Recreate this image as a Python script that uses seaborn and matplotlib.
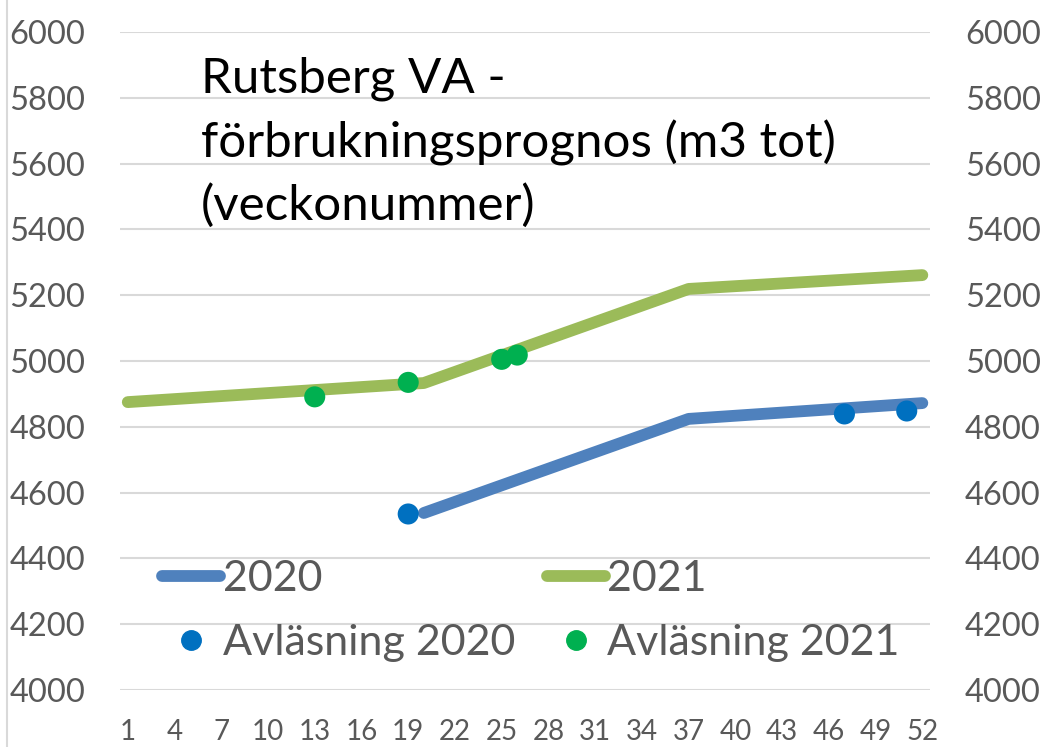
import seaborn as sns
import matplotlib.pyplot as plt
from matplotlib.lines import Line2D

# prognos (linjer), veckonummer -> m3 tot
weeks_2020 = [20, 37, 52]
values_2020 = [4538, 4824, 4872]
weeks_2021 = [1, 20, 37, 52]
values_2021 = [4875, 4933, 5219, 5261]

# avläsningar (punkter)
read_weeks_2020 = [19, 47, 51]
read_values_2020 = [4535, 4839, 4848]
read_weeks_2021 = [13, 19, 25, 26]
read_values_2021 = [4891, 4935, 5005, 5018]

week_ticks = list(range(1, 53, 3))
y_ticks = list(range(4000, 6001, 200))

sns.set_theme(style='white')
plt.rcParams['font.family'] = ['Lato', 'DejaVu Sans']

GRAY = '#595959'
BLUE_LINE = '#4F81BD'
GREEN_LINE = '#9BBB59'
BLUE_DOT = '#0070C0'
GREEN_DOT = '#00B050'

fig = plt.figure(figsize=(10.59, 7.47), dpi=100)
ax = fig.add_axes([0.1133, 0.0763, 0.765, 0.8809])

for y in y_ticks:
    ax.axhline(y, color='#D9D9D9', lw=1.5, zorder=0)

sns.lineplot(x=weeks_2020, y=values_2020, ax=ax, color=BLUE_LINE, lw=8.5,
             solid_capstyle='round', solid_joinstyle='round', zorder=2)
sns.lineplot(x=weeks_2021, y=values_2021, ax=ax, color=GREEN_LINE, lw=8.5,
             solid_capstyle='round', solid_joinstyle='round', zorder=2)
sns.scatterplot(x=read_weeks_2020, y=read_values_2020, ax=ax, color=BLUE_DOT,
                s=230, edgecolor='none', zorder=3)
sns.scatterplot(x=read_weeks_2021, y=read_values_2021, ax=ax, color=GREEN_DOT,
                s=230, edgecolor='none', zorder=3)

ax.set_xlim(0.5, 52.5)
ax.set_ylim(4000, 6000)
ax.set_xticks(week_ticks)
ax.set_xticklabels([str(w) for w in week_ticks])
ax.set_yticks(y_ticks)
ax.tick_params(axis='y', which='both', labelsize=23.5, colors=GRAY, length=0,
               pad=25, left=False, right=False, labelleft=True, labelright=True)
ax.tick_params(axis='x', labelsize=20, colors=GRAY, length=0, pad=21)
for s in ax.spines.values():
    s.set_visible(False)
ax.set(xlabel='', ylabel='')

ax.text(0.1, 0.962, 'Rutsberg VA -\nförbrukningsprognos (m3 tot)\n(veckonummer)',
        transform=ax.transAxes, fontsize=35.5, color='black', va='top', ha='left',
        linespacing=1.48)

handles = [
    Line2D([], [], color=BLUE_LINE, lw=8.5, solid_capstyle='round'),
    Line2D([], [], ls='none', marker='o', markersize=14, color=BLUE_DOT),
    Line2D([], [], color=GREEN_LINE, lw=8.5, solid_capstyle='round'),
    Line2D([], [], ls='none', marker='o', markersize=14, color=GREEN_DOT),
]
labels = ['2020', 'Avläsning 2020', '2021', 'Avläsning 2021']
leg = ax.legend(handles, labels, ncol=2, frameon=False, fontsize=31,
                loc='lower left', bbox_to_anchor=(0.015, -0.004),
                handlelength=1.35, handletextpad=0.05, columnspacing=0.75,
                labelspacing=0.62, borderpad=0.2)
for t in leg.get_texts():
    t.set_color(GRAY)

fig.add_artist(Line2D([7 / 1059, 7 / 1059], [0, 1], color='#D9D9D9', lw=1.5))

fig.savefig('out.png', dpi=100)
